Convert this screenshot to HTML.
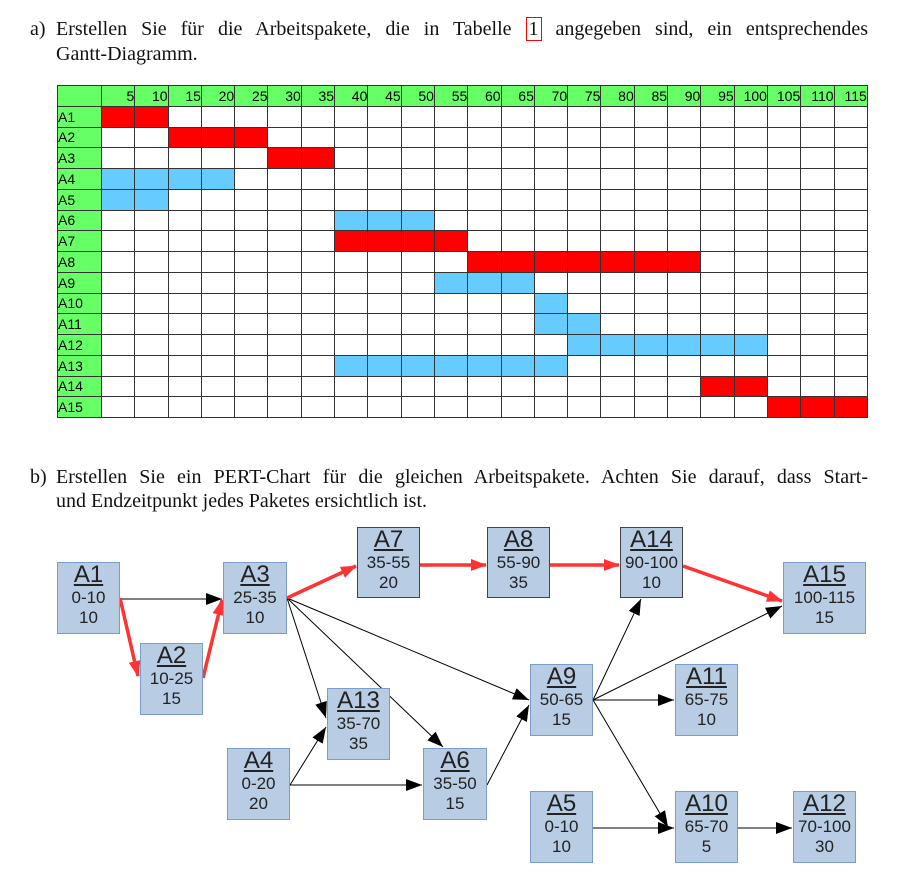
<!DOCTYPE html>
<html><head><meta charset="utf-8"><style>
body{margin:0;width:906px;height:876px;background:#fff;position:relative;overflow:hidden;font-family:"Liberation Serif",serif;}
.t{position:absolute;font-size:20px;color:#111;line-height:24px;white-space:nowrap;}
.j{width:812px;text-align:justify;text-align-last:justify;white-space:normal;}
table{position:absolute;left:57px;top:85px;border-collapse:collapse;font-family:"Liberation Sans",sans-serif;font-size:14px;}
td{border:1px solid #333;width:32.3px;height:19.75px;padding:0;text-align:right;line-height:16px;}
td.l{width:43px;background:#66ff66;text-align:left;}
tr.h td{background:#66ff66;}
.r{background:#ff0000}.b{background:#66ccff}
.n{position:absolute;background:#b8cce4;border:1.5px solid #7a9cc6;box-sizing:border-box;text-align:center;font-family:"Liberation Sans",sans-serif;color:#222;font-size:17px;line-height:20px;}
.n.d{border-color:#444;}
.n u{font-size:24px;line-height:26px;display:block;margin-top:-1px;}
</style></head><body>
<div class="t" style="left:30px;top:17px">a)</div>
<div class="t j" style="left:56px;top:17px">Erstellen Sie für die Arbeitspakete, die in Tabelle <span style="border:1px solid red;padding:0 2px">1</span> angegeben sind, ein entsprechendes</div>
<div class="t" style="left:56px;top:42px">Gantt-Diagramm.</div>
<div class="t" style="left:30px;top:465px">b)</div>
<div class="t j" style="left:56px;top:465px">Erstellen Sie ein PERT-Chart für die gleichen Arbeitspakete. Achten Sie darauf, dass Start-</div>
<div class="t" style="left:56px;top:489px">und Endzeitpunkt jedes Paketes ersichtlich ist.</div>
<table id="g"></table>
<script>
var rows=[["A1","r",1,2],["A2","r",3,5],["A3","r",6,7],["A4","b",1,4],["A5","b",1,2],["A6","b",8,10],["A7","r",8,11],["A8","r",12,18],["A9","b",11,13],["A10","b",14,14],["A11","b",14,15],["A12","b",15,20],["A13","b",8,14],["A14","r",19,20],["A15","r",21,23]];
var h='<tr class="h"><td class="l"></td>';for(var i=1;i<=23;i++)h+='<td>'+(i*5)+'</td>';h+='</tr>';
rows.forEach(function(r){h+='<tr><td class="l">'+r[0]+'</td>';for(var i=1;i<=23;i++)h+='<td'+(i>=r[2]&&i<=r[3]?' class="'+r[1]+'"':'')+'></td>';h+='</tr>';});
document.getElementById('g').innerHTML=h;
</script>
<svg width="906" height="876" style="position:absolute;left:0;top:0">
<defs>
<marker id="k" markerWidth="16" markerHeight="12" refX="16" refY="6" orient="auto" markerUnits="userSpaceOnUse"><path d="M0,0L16,6L0,12z" fill="#000"/></marker>
<marker id="rr" markerWidth="16" markerHeight="12" refX="15" refY="6" orient="auto" markerUnits="userSpaceOnUse"><path d="M0,0L16,6L0,12z" fill="#ff3333"/></marker>
</defs>
<g stroke="#000" stroke-width="1" marker-end="url(#k)" fill="none">
<line x1="120" y1="599" x2="222" y2="599"/>
<line x1="287" y1="598" x2="326" y2="718"/>
<line x1="287" y1="598" x2="443" y2="747"/>
<line x1="287" y1="598" x2="529" y2="700"/>
<line x1="290" y1="785" x2="326" y2="727"/>
<line x1="290" y1="785" x2="422" y2="785"/>
<line x1="487" y1="785" x2="529" y2="705"/>
<line x1="593" y1="700" x2="641" y2="599"/>
<line x1="593" y1="700" x2="782" y2="606"/>
<line x1="593" y1="700" x2="674" y2="700"/>
<line x1="593" y1="700" x2="668" y2="827"/>
<line x1="593" y1="828" x2="674" y2="828"/>
<line x1="738" y1="828" x2="792" y2="828"/>
</g>
<g stroke="#ff3333" stroke-width="3.5" marker-end="url(#rr)" fill="none">
<line x1="120" y1="598" x2="138" y2="676"/>
<line x1="203" y1="678" x2="222" y2="600"/>
<line x1="287" y1="598" x2="356" y2="566"/>
<line x1="420" y1="565" x2="486" y2="565"/>
<line x1="550" y1="565" x2="619" y2="565"/>
<line x1="683" y1="566" x2="782" y2="601"/>
</g>
</svg>
<div class="n" style="left:57px;top:562px;width:63px;height:72px"><u>A1</u>0-10<br>10</div>
<div class="n" style="left:140px;top:643px;width:63px;height:72px"><u>A2</u>10-25<br>15</div>
<div class="n" style="left:223px;top:562px;width:64px;height:72px"><u>A3</u>25-35<br>10</div>
<div class="n d" style="left:357px;top:527px;width:63px;height:71px"><u>A7</u>35-55<br>20</div>
<div class="n d" style="left:487px;top:527px;width:63px;height:71px"><u>A8</u>55-90<br>35</div>
<div class="n d" style="left:620px;top:527px;width:63px;height:71px"><u>A14</u>90-100<br>10</div>
<div class="n" style="left:783px;top:562px;width:83px;height:72px"><u>A15</u>100-115<br>15</div>
<div class="n" style="left:327px;top:688px;width:63px;height:72px"><u>A13</u>35-70<br>35</div>
<div class="n" style="left:530px;top:664px;width:63px;height:72px"><u>A9</u>50-65<br>15</div>
<div class="n" style="left:675px;top:664px;width:63px;height:72px"><u>A11</u>65-75<br>10</div>
<div class="n" style="left:227px;top:748px;width:63px;height:72px"><u>A4</u>0-20<br>20</div>
<div class="n" style="left:423px;top:748px;width:64px;height:72px"><u>A6</u>35-50<br>15</div>
<div class="n" style="left:530px;top:791px;width:63px;height:72px"><u>A5</u>0-10<br>10</div>
<div class="n" style="left:675px;top:791px;width:63px;height:72px"><u>A10</u>65-70<br>5</div>
<div class="n" style="left:793px;top:791px;width:63px;height:72px"><u>A12</u>70-100<br>30</div>
</body></html>
